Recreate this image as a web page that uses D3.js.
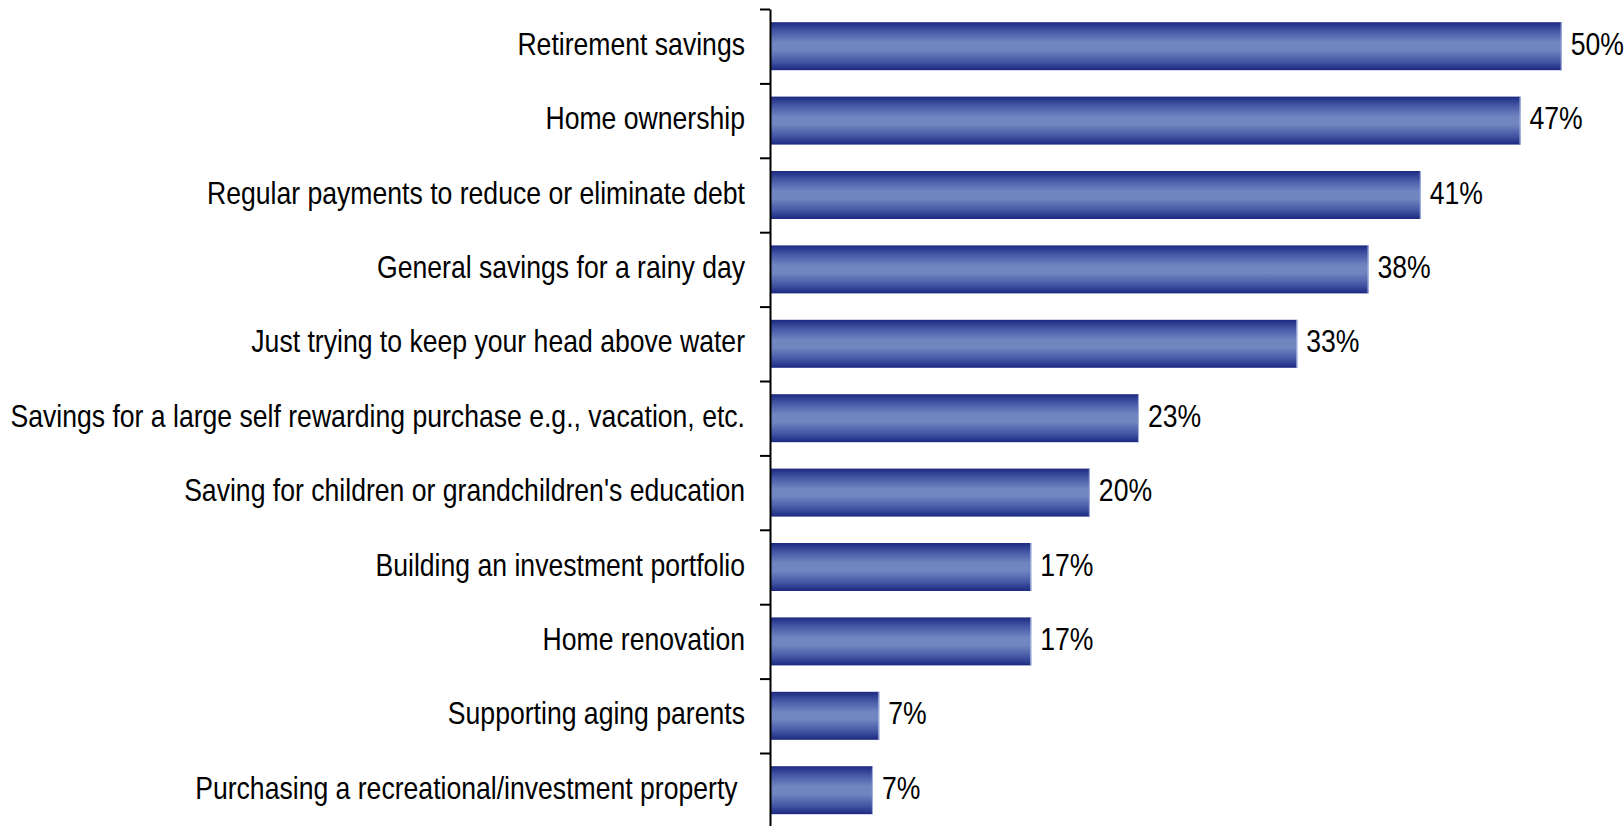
<!DOCTYPE html>
<html>
<head>
<meta charset="utf-8">
<script src="https://cdn.jsdelivr.net/npm/d3@7"></script>
<style>
  body { margin: 0; background: #fff; }
  svg text { font-family: "Liberation Sans", Arial, sans-serif; fill: #000; white-space: pre; }
</style>
</head>
<body>
<svg width="1624" height="826"></svg>
<script>
// categories, top to bottom
const categories = [
  'Retirement savings',
  'Home ownership',
  'Regular payments to reduce or eliminate debt',
  'General savings for a rainy day',
  'Just trying to keep your head above water',
  'Savings for a large self rewarding purchase e.g., vacation, etc.',
  "Saving for children or grandchildren's education",
  'Building an investment portfolio',
  'Home renovation',
  'Supporting aging parents',
  'Purchasing a recreational/investment property '
];
// bar lengths
const values = [50, 47.4, 41.1, 37.8, 33.3, 23.3, 20.2, 16.5, 16.5, 6.9, 6.5];
// printed labels
const valueLabels = ['50%', '47%', '41%', '38%', '33%', '23%', '20%', '17%', '17%', '7%', '7%'];

const svg = d3.select('svg');

const axisX = 770;
const plotTop = 9;
const step = 74.4;
const plotBottom = plotTop + step * categories.length;
const narrow = 0.858; // no narrow font installed, squeeze a regular one

const x = d3.scaleLinear().domain([0, 50]).range([axisX, 1561.7]);

const y = d3
  .scaleBand()
  .domain(categories)
  .range([plotTop, plotBottom])
  .paddingInner(0.355)
  .paddingOuter(0.1775);

// gradient for bars
const defs = svg.append('defs');
const grad = defs
  .append('linearGradient')
  .attr('id', 'barGrad')
  .attr('x1', 0).attr('y1', 0)
  .attr('x2', 0).attr('y2', 1);
grad.append('stop').attr('offset', '0%').attr('stop-color', '#1b2980');
grad.append('stop').attr('offset', '18%').attr('stop-color', '#4456a4');
grad.append('stop').attr('offset', '42%').attr('stop-color', '#7185c1');
grad.append('stop').attr('offset', '58%').attr('stop-color', '#7185c1');
grad.append('stop').attr('offset', '82%').attr('stop-color', '#4456a4');
grad.append('stop').attr('offset', '100%').attr('stop-color', '#1b2980');

const bars = svg.append('g').selectAll('g').data(categories).join('g');

bars
  .append('rect')
  .attr('x', axisX)
  .attr('y', (d) => y(d))
  .attr('width', (d, i) => x(values[i]) - axisX)
  .attr('height', y.bandwidth())
  .attr('fill', 'url(#barGrad)');

// light right edge
bars
  .append('line')
  .attr('x1', (d, i) => x(values[i]) - 0.5)
  .attr('x2', (d, i) => x(values[i]) - 0.5)
  .attr('y1', (d) => y(d))
  .attr('y2', (d) => y(d) + y.bandwidth())
  .attr('stroke', '#a9b6e2')
  .attr('stroke-width', 1);

// value labels
bars
  .append('text')
  .attr('transform', (d, i) =>
    'translate(' + (x(values[i]) + 9) + ',' + (y(d) + y.bandwidth() / 2 + 8.5) + ') scale(' + narrow + ',1)')
  .attr('font-size', 31)
  .text((d, i) => valueLabels[i]);

// category labels
bars
  .append('text')
  .attr('transform', (d) =>
    'translate(745,' + (y(d) + y.bandwidth() / 2 + 8.5) + ') scale(' + narrow + ',1)')
  .attr('text-anchor', 'end')
  .attr('font-size', 31)
  .text((d) => d);

// vertical axis with ticks at band boundaries
const tickScale = d3.scaleLinear().domain([0, categories.length]).range([plotTop, plotBottom]);
const yAxis = d3
  .axisLeft(tickScale)
  .tickValues(d3.range(categories.length + 1))
  .tickFormat('')
  .tickSize(10)
  .tickSizeOuter(0);

const axisG = svg.append('g').attr('transform', 'translate(' + axisX + ',0)').call(yAxis);
axisG.select('.domain').attr('stroke', '#000').attr('stroke-width', 2);
axisG.selectAll('.tick line').attr('stroke', '#000').attr('stroke-width', 2);
</script>
</body>
</html>
